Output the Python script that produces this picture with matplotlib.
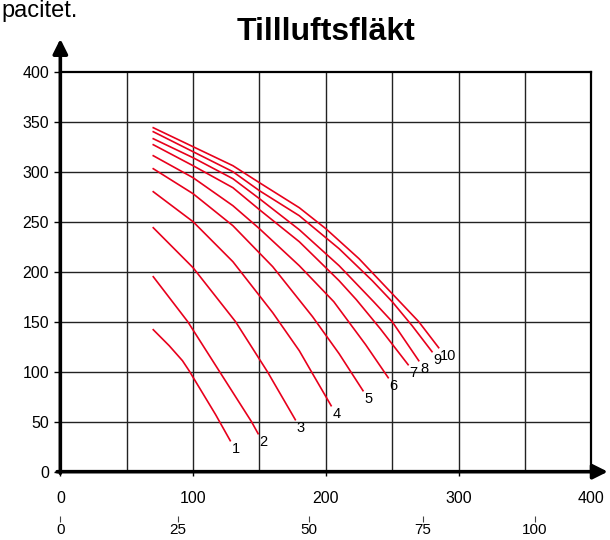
import matplotlib
matplotlib.use("Agg")
import matplotlib.pyplot as plt

plt.rcParams['font.family'] = ['Liberation Sans', 'DejaVu Sans']

# fan curves, airflow (m3/h) vs pressure (Pa), one curve per speed step
q1 = [70, 82, 92, 97, 107, 117, 128]
p1 = [142, 126, 111, 101, 79, 57, 31]
q2 = [70, 96, 120, 144, 149]
p2 = [195, 150, 100, 50, 38]
q3 = [70, 100, 132, 156, 177]
p3 = [244, 204, 150, 100, 52]
q4 = [70, 100, 130, 160, 180, 190, 204]
p4 = [280, 250, 210, 159, 121, 98, 66]
q5 = [70, 100, 130, 160, 190, 210, 228]
p5 = [303, 278, 246, 205, 155, 118, 81]
q6 = [70, 100, 130, 150, 180, 206, 230, 247]
p6 = [316, 294, 266, 243, 206, 170, 127, 94]
q7 = [70, 100, 130, 150, 180, 210, 223, 241, 262]
p7 = [327, 306, 284, 262, 230, 191, 172, 143, 107]
q8 = [70, 100, 130, 150, 180, 210, 236, 250, 270]
p8 = [333, 314, 293, 273, 242, 206, 170, 150, 111]
q9 = [70, 100, 130, 150, 180, 210, 235, 250, 265, 280]
p9 = [340, 320, 300, 281, 256, 223, 191, 170, 146, 120]
q10 = [70, 100, 130, 150, 180, 200, 225, 250, 270, 285]
p10 = [344, 325, 306, 289, 264, 243, 213, 178, 150, 124]

steps = ['1', '2', '3', '4', '5', '6', '7', '8', '9', '10']

x_ticks = [0, 100, 200, 300, 400]
y_ticks = [0, 50, 100, 150, 200, 250, 300, 350, 400]
ls_labels = ['0', '25', '50', '75', '100']
ls_pos = [0, 88.5, 187, 273, 357.5]

curves = [(q1, p1), (q2, p2), (q3, p3), (q4, p4), (q5, p5),
          (q6, p6), (q7, p7), (q8, p8), (q9, p9), (q10, p10)]

fig = plt.figure(figsize=(6.1, 5.4), dpi=100)
ax = fig.add_axes([0.0989, 0.1265, 0.8705, 0.7407])
ax.set_xlim(0, 400)
ax.set_ylim(0, 400)

# grid every 50 units
for v in range(50, 400, 50):
    ax.axvline(v, color='#222222', lw=1.0, zorder=1)
    ax.axhline(v, color='#222222', lw=1.0, zorder=1)

for s in ['left', 'bottom']:
    ax.spines[s].set_visible(False)
for s in ['top', 'right']:
    ax.spines[s].set_linewidth(1.6)
    ax.spines[s].set_color('black')

# thick axes with arrow heads
ax.annotate('', xy=(0, 1.082), xytext=(0, -0.004), xycoords='axes fraction',
            arrowprops=dict(arrowstyle='-|>', lw=2.6, color='black',
                            mutation_scale=22, shrinkA=0, shrinkB=0),
            annotation_clip=False)
ax.annotate('', xy=(1.031, 0), xytext=(-0.006, 0), xycoords='axes fraction',
            arrowprops=dict(arrowstyle='-|>', lw=2.6, color='black',
                            mutation_scale=22, shrinkA=0, shrinkB=0),
            annotation_clip=False)

for (q, p), name in zip(curves, steps):
    ax.plot(q, p, color='#e8001c', lw=1.2, zorder=3)
    ax.annotate(name, xy=(q[-1], p[-1]), xytext=(1, -6), textcoords='offset points',
                ha='left', va='center', fontsize=10.5)

ax.set_xticks(x_ticks)
ax.set_yticks(y_ticks)
ax.tick_params(axis='x', length=3, width=1, pad=11, labelsize=11.5)
ax.tick_params(axis='y', length=4, width=1, pad=4, labelsize=11.5)

# second flow scale in l/s below the main one
sec = ax.secondary_xaxis(-0.11)
sec.spines['bottom'].set_visible(False)
sec.set_xticks(ls_pos, ls_labels)
sec.tick_params(axis='x', length=4, width=0.8, pad=1.5, labelsize=11, color='#444444')
for lab in sec.get_xticklabels():
    lab.set_family(['Liberation Sans Narrow', 'Liberation Sans'])

fig.text(0.534, 0.926, 'Tillluftsfläkt', ha='center', va='baseline',
         fontsize=23, fontweight='bold')
fig.text(0.003, 0.968, 'pacitet.', ha='left', va='baseline', fontsize=17)

fig.savefig('out.png', dpi=100)
